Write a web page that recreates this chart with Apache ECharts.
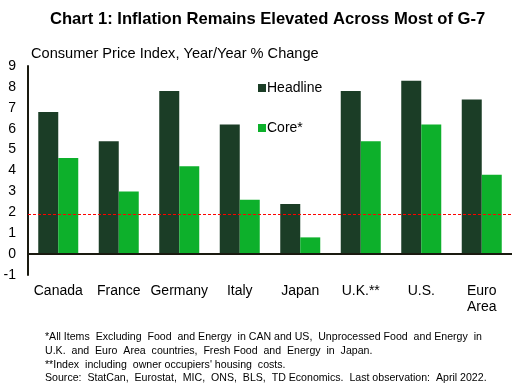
<!DOCTYPE html>
<html><head><meta charset="utf-8">
<script src="https://cdn.jsdelivr.net/npm/echarts@6/dist/echarts.min.js"></script>
<style>html,body{margin:0;padding:0;background:#fff}#c{width:515px;height:384px}</style>
</head><body><div id="c"></div>
<script>
const categories = ['Canada','France','Germany','Italy','Japan','U.K.**','U.S.','Euro\nArea'];
const headline = [6.8, 5.4, 7.8, 6.2, 2.4, 7.8, 8.3, 7.4];
const core = [4.6, 3.0, 4.2, 2.6, 0.8, 5.4, 6.2, 3.8];
const target = 1.9;
const yTicks = {min: -1, max: 9, interval: 1};
const footnotes = [
  '*All Items  Excluding  Food  and Energy  in CAN and US,  Unprocessed Food  and Energy  in',
  'U.K.  and  Euro  Area  countries,  Fresh Food  and  Energy  in  Japan.',
  '**Index  including  owner occupiers\' housing  costs.',
  'Source:  StatCan,  Eurostat,  MIC,  ONS,  BLS,  TD Economics.  Last observation:  April 2022.'
];
const font = 'Arial, "Liberation Sans", sans-serif';
const chart = echarts.init(document.getElementById('c'));
chart.setOption({
  animation: false,
  textStyle: {fontFamily: font},
  title: [{
    text: 'Chart 1: Inflation Remains Elevated Across Most of G-7',
    left: 45, top: 6,
    textStyle: {fontSize: 16.6, fontWeight: 'bold', color: '#000', fontFamily: font}
  }, {
    text: 'Consumer Price Index, Year/Year % Change',
    left: 26, top: 41,
    textStyle: {fontSize: 14.6, fontWeight: 'normal', color: '#000', fontFamily: font}
  }],
  legend: {
    orient: 'vertical', left: 253, top: 76, itemGap: 26,
    itemWidth: 8, itemHeight: 8, icon: 'rect',
    textStyle: {fontSize: 14, color: '#000', padding: [0,0,0,-4]},
    data: ['Headline', 'Core*']
  },
  grid: {left: 28, right: 3, top: 66, bottom: 109, containLabel: false},
  xAxis: {
    type: 'category', data: categories,
    axisLine: {show: false, onZero: false},
    axisTick: {show: false},
    axisLabel: {color: '#000', fontSize: 14, margin: 8, lineHeight: 16, interval: 0}
  },
  yAxis: {
    type: 'value', min: yTicks.min, max: yTicks.max, interval: yTicks.interval,
    splitLine: {show: false},
    axisLine: {show: true, lineStyle: {color: '#1a1a10', width: 2}},
    axisTick: {show: false},
    axisLabel: {color: '#000', fontSize: 14, margin: 12}
  },
  series: [{
    name: 'Headline', type: 'bar', data: headline,
    barWidth: 20, barGap: '0%',
    itemStyle: {color: '#1b3d26'},
    markLine: {
      silent: true, symbol: 'none', label: {show: false},
      lineStyle: {color: '#1a1a10', type: 'solid', width: 2},
      data: [{yAxis: 0}]
    }
  }, {
    name: 'Core*', type: 'bar', data: core,
    barWidth: 20,
    itemStyle: {color: '#0db02b'},
    markLine: {
      silent: true, symbol: 'none', label: {show: false},
      lineStyle: {color: '#ff0000', type: [3, 2], width: 1},
      data: [{yAxis: target}]
    }
  }],
  graphic: footnotes.map((t, i) => ({
    type: 'text', left: 45, top: 332 + i * 13.6,
    style: {text: t, font: '10.6px ' + font, fill: '#000'}
  }))
});
</script></body></html>
